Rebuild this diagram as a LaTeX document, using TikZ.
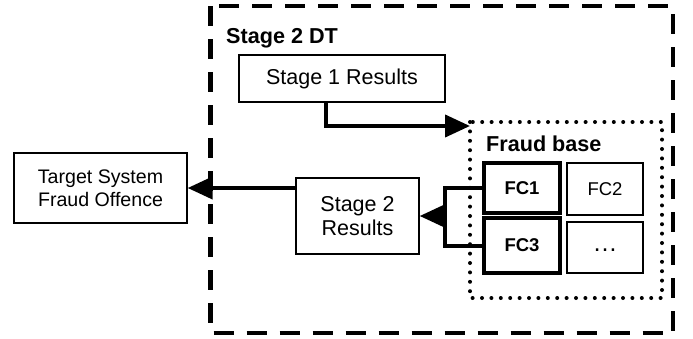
\documentclass[tikz,border=0pt]{standalone}
\usepackage{fontspec}
\setmainfont{Liberation Sans}
\usetikzlibrary{arrows.meta,calc}
\begin{document}
\begin{tikzpicture}[x=1pt,y=-1pt,
  box/.style={draw,line width=1.3pt,inner sep=0pt,align=center,font=\fontsize{21.5}{24.5}\selectfont},
  fcbox/.style={draw,line width=3.5pt,inner sep=0pt,minimum width=76pt,font=\fontsize{18.5}{21}\selectfont\bfseries},
  fcthin/.style={draw,line width=1.3pt,inner sep=0pt,minimum width=76pt,font=\fontsize{18.5}{21}\selectfont},
  conn/.style={line width=4pt},
  tip/.style={-{Triangle[length=25pt,width=22pt]}},
  outerdash/.style={line width=4.5pt,dash pattern=on 20pt off 13pt},
  dotline/.style={line width=4pt,line cap=round,dash pattern=on 0pt off 9.4pt},
  lbl/.style={font=\fontsize{21.6}{24}\selectfont\bfseries,inner sep=0pt,anchor=west}]
\useasboundingbox (0,0) rectangle (693,338);
% outer dashed region
\draw[outerdash] (210.5,6) rectangle (673,333);
\node[lbl] (dt) at (226,38) {Stage 2 DT};
% stage 1 results
\node[box,minimum width=206pt,minimum height=47pt] (s1) at (342,78.5) {Stage 1 Results};
% fraud base
\draw[dotline] (470,122) rectangle (662,298);
\coordinate (fbnw) at (470,126);
\node[lbl] (fb) at (486,144) {Fraud base};
\node[fcbox,minimum height=50pt] (fc1) at (522,188) {FC1};
\node[fcthin,minimum height=52pt] (fc2) at (605,189) {FC2};
\node[fcbox,minimum height=55pt] (fc3) at (522,245.5) {FC3};
\node[fcthin,minimum height=51pt] (fc4) at (605,247.5) {\raisebox{-7pt}{\fontsize{25}{27}\selectfont\ldots}};
% stage 2 results
\node[box,minimum width=123pt,minimum height=76pt] (s2) at (357.5,216) {Stage 2\\Results};
% target
\node[box,minimum width=173pt,minimum height=70pt,font=\fontsize{19.6}{22.5}\selectfont] (tg) at (100.5,188) {Target System\\Fraud Offence};
% connectors
\coordinate (s1out) at (326,102);
\draw[conn,tip] (s1out) |- (fbnw);
\coordinate (bl) at (445,216);
\draw[conn,line join=miter] (fc1.west) -| (bl) |- (fc3.west);
\draw[conn,tip] (bl) -- (s2.east);
\draw[conn,tip] (s2.west |- tg.east) -- (tg.east);
\end{tikzpicture}
\end{document}
